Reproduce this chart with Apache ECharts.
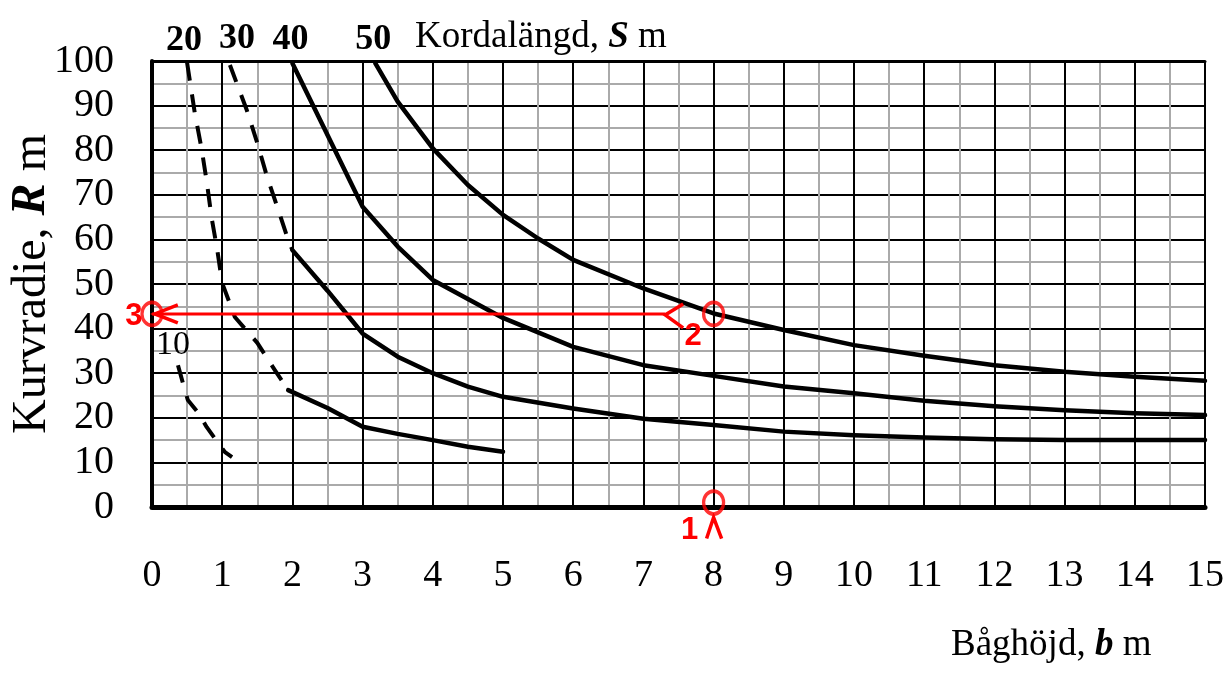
<!DOCTYPE html>
<html><head><meta charset="utf-8">
<script src="https://cdn.jsdelivr.net/npm/echarts@6/dist/echarts.min.js"></script>
<style>html,body{margin:0;padding:0;background:#fff}#c{width:1229px;height:677px}</style>
</head><body><div id="c"></div>
<script>
// ---- axes ----
const xTicks = [0,1,2,3,4,5,6,7,8,9,10,11,12,13,14,15];
const yTicks = [0,10,20,30,40,50,60,70,80,90,100];

// ---- curves (Kordalängd s) ----
const b10Dashed = [0.37,0.44,0.51,0.66,0.78,0.93,1.04,1.14];
const R10Dashed = [31.8,27.8,24.0,21.1,17.9,14.6,12.3,11.2];

const b20Dashed = [0.5,0.61,0.71,0.78,0.85,0.93,1.0,1.18,1.5,1.75,1.94];
const R20Dashed = [99.6,88.3,80.0,72.9,64.8,57.6,50.2,42.6,36.8,30.7,26.2];
const b20Solid  = [1.94,2.5,3.0,3.5,4.0,4.5,5.0];
const R20Solid  = [26.2,22.2,18.0,16.4,15.0,13.5,12.4];

const b30Dashed = [1.11,1.35,1.5,1.64,1.79,1.94,2.0];
const R30Dashed = [99.1,89.0,81.6,74.0,67.0,59.9,57.6];
const b30Solid  = [2.0,2.5,3.0,3.5,4.0,4.5,5.0,6.0,7.0,8.0,9.0,10,11,12,13,14,15];
const R30Solid  = [57.6,48.5,38.9,33.7,30.0,27.0,24.7,22.1,19.8,18.4,16.9,16.1,15.6,15.2,15.0,15.0,15.0];

const b40Solid  = [2.0,2.5,3.0,3.5,4.0,5.0,6.0,7.0,8.0,9.0,10,11,12,13,14,15];
const R40Solid  = [99.5,83.4,67.3,58.4,50.9,42.4,35.9,31.8,29.4,27.0,25.5,23.8,22.6,21.7,21.0,20.6];

const b50Solid  = [3.18,3.5,4.0,4.5,5.0,5.5,6.0,7.0,8.0,9.0,10,11,12,13,14,15];
const R50Solid  = [99.5,90.9,80.4,72.2,65.5,60.2,55.4,49.0,43.4,39.7,36.3,33.9,31.8,30.3,29.2,28.3];

const curveNames = ['10','20','30','40','50'];

// ---- worked example (red) ----
const stepB = [8, 8, 0];
const stepR = [1, 43.3, 43.3];
const stepLabels = ['1','2','3'];
const readLineB = [0, 7.31];
const readLineR = [43.3, 43.3];
const chevronB = [8, 7.31, 0.04];
const chevronR = [1, 43.3, 43.3];
const chevronDir = ['up','left2','left3'];

const zip = (a,b) => a.map((v,i)=>[v,b[i]]);
const SERIF = 'Liberation Serif';

function curve(name, b, R, dashed){
  return {
    name: name, type: 'line', data: zip(b,R), showSymbol: false, symbol: 'none',
    smooth: false, z: 3, silent: true,
    lineStyle: dashed ? {color:'#000', width:4, type:[18,14], cap:'butt', join:'round'}
                      : {color:'#000', width:4.5, join:'round', cap:'round'}
  };
}

// curve labels placed at the first point of each curve
const labelAnchors = [
  {name: curveNames[0], value:[b10Dashed[0], R10Dashed[0]], off:[-5,-20], bold:false},
  {name: curveNames[1], value:[b20Dashed[0], R20Dashed[0]], off:[-3,-22], bold:true},
  {name: curveNames[2], value:[b30Dashed[0], R30Dashed[0]], off:[7,-26], bold:true},
  {name: curveNames[3], value:[b40Solid[0], R40Solid[0]], off:[-2,-24], bold:true},
  {name: curveNames[4], value:[b50Solid[0], R50Solid[0]], off:[-2,-24], bold:true}
];

const chart = echarts.init(document.getElementById('c'), null, {renderer:'canvas'});
const option = {
  animation: false,
  backgroundColor: '#fff',
  title: [
    {text: 'Kordalängd, {i|S} m', left: 410, top: 14,
     textStyle: {fontFamily: SERIF, fontSize: 37, fontWeight: 'normal', color: '#000',
       rich: {i: {fontFamily: SERIF, fontSize: 37, fontStyle: 'italic', fontWeight: 'bold', color:'#000'}}}},
    {text: 'Båghöjd, {i|b} m', left: 946, top: 622,
     textStyle: {fontFamily: SERIF, fontSize: 37, fontWeight: 'normal', color: '#000',
       rich: {i: {fontFamily: SERIF, fontSize: 37, fontStyle: 'italic', fontWeight: 'bold', color:'#000'}}}}
  ],
  grid: {left: 152, right: 24, top: 61, bottom: 170, containLabel: false, outerBoundsMode: 'none'},
  xAxis: [{
    type: 'value', min: 0, max: 15, interval: 1,
    axisLine: {show: true, onZero: false, lineStyle: {color:'#000', width: 5}},
    axisTick: {show: false},
    axisLabel: {fontFamily: SERIF, fontSize: 38, color: '#000', margin: 50,
      formatter: v => xTicks.includes(v) ? String(v) : ''},
    splitLine: {show: true, lineStyle: {color:'#000', width: 2}},
    minorTick: {show: false, splitNumber: 2},
    minorSplitLine: {show: true, lineStyle: {color:'#aaa', width: 2}}
  },{
    type: 'value', min: 0, max: 15, interval: 1, position: 'top',
    axisLine: {show: true, onZero: false, lineStyle: {color:'#000', width: 3}},
    axisTick: {show: false}, axisLabel: {show: false}, splitLine: {show: false}
  }],
  yAxis: {
    type: 'value', min: 0, max: 100, interval: 10,
    name: 'Kurvradie, {i|R} m', nameLocation: 'middle', nameGap: 96, nameRotate: 90,
    nameMoveOverlap: false,
    nameTextStyle: {fontFamily: SERIF, fontSize: 48, color: '#000',
      rich: {i: {fontFamily: SERIF, fontSize: 48, fontStyle: 'italic', fontWeight: 'bold', color:'#000'}}},
    axisLine: {show: true, onZero: false, lineStyle: {color:'#000', width: 4}},
    axisTick: {show: false},
    axisLabel: {fontFamily: SERIF, fontSize: 40, color: '#000', margin: 38,
      formatter: v => yTicks.includes(v) ? String(v) : ''},
    splitLine: {show: true, lineStyle: {color:'#000', width: 2}},
    minorTick: {show: false, splitNumber: 2},
    minorSplitLine: {show: true, lineStyle: {color:'#aaa', width: 2}}
  },
  series: [
    curve('10', b10Dashed, R10Dashed, true),
    curve('20', b20Dashed, R20Dashed, true),
    curve('20', b20Solid, R20Solid, false),
    curve('30', b30Dashed, R30Dashed, true),
    curve('30', b30Solid, R30Solid, false),
    curve('40', b40Solid, R40Solid, false),
    curve('50', b50Solid, R50Solid, false),
    {
      type: 'custom', silent: true, z: 4,
      data: labelAnchors.map(a => a.value),
      renderItem: function(params, api){
        const a = labelAnchors[params.dataIndex];
        const p = api.coord([api.value(0), api.value(1)]);
        return {type: 'text', x: p[0] + a.off[0], y: p[1] + a.off[1],
          style: {text: a.name, fill: '#000', align: 'center', verticalAlign: 'middle',
            font: (a.bold ? 'bold ' : '') + (a.bold ? 36 : 34) + 'px "Liberation Serif"'}};
      }
    },
    {
      type: 'line', silent: true, z: 6, showSymbol: false, symbol: 'none',
      data: zip(readLineB, readLineR),
      lineStyle: {color: '#ff0000', width: 3}
    },
    {
      type: 'scatter', silent: true, z: 7, symbol: 'circle', symbolSize: [20, 23],
      itemStyle: {color: 'rgba(255,255,255,0)', borderColor: '#ff0000', borderWidth: 3.5},
      data: stepB.map((b,i) => [b, stepR[i]])
    },
    {
      type: 'custom', silent: true, z: 8,
      data: zip(chevronB, chevronR),
      renderItem: function(params, api){
        const p = api.coord([api.value(0), api.value(1)]);
        const d = chevronDir[params.dataIndex];
        let pts, tx, ty;
        if (d === 'up') { pts = [[p[0]-7, p[1]+36], [p[0], p[1]+15], [p[0]+8, p[1]+36]]; tx = p[0]-24; ty = p[1]+28; }
        else if (d === 'left2') { pts = [[p[0]+18, p[1]-10], [p[0], p[1]+1], [p[0]+18, p[1]+14]]; tx = p[0]+28; ty = p[1]+23; }
        else { pts = [[p[0]+23, p[1]-9], [p[0], p[1]], [p[0]+23, p[1]+9]]; tx = p[0]-21; ty = p[1]+3; }
        return {type: 'group', children: [
          {type: 'polyline', shape: {points: pts},
            style: {stroke: '#ff0000', lineWidth: 3.5, fill: null}},
          {type: 'text', x: tx, y: ty,
            style: {text: stepLabels[params.dataIndex], fill: '#ff0000', align: 'center',
              verticalAlign: 'middle', font: 'bold 31px "Liberation Sans"'}}
        ]};
      }
    }
  ]
};
chart.setOption(option);
</script>
</body></html>
